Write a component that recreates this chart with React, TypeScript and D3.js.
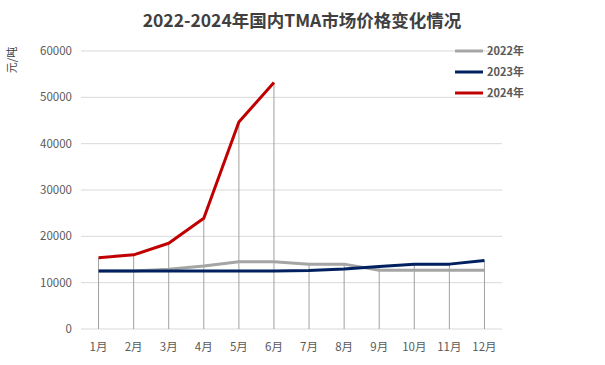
import React from 'react';
import * as d3 from 'd3';

const months = ['1月', '2月', '3月', '4月', '5月', '6月', '7月', '8月', '9月', '10月', '11月', '12月'];
const price2022 = [12500, 12500, 12900, 13600, 14500, 14500, 14000, 14000, 12700, 12700, 12700, 12700];
const price2023 = [12500, 12500, 12500, 12500, 12500, 12500, 12600, 12950, 13500, 14000, 14000, 14800];
const price2024 = [15400, 16000, 18500, 23900, 44700, 53200];
const yTicks = [0, 10000, 20000, 30000, 40000, 50000, 60000];

const series = [
  { name: '2022年', values: price2022, color: '#A5A5A5' },
  { name: '2023年', values: price2023, color: '#002060' },
  { name: '2024年', values: price2024, color: '#C00000' },
];

const font = '"Noto Sans CJK SC", "Microsoft YaHei", sans-serif';

const App = () => {
  const width = 605, height = 365;
  const left = 81, right = 502, top = 51, bottom = 329;

  const x = d3.scaleBand().domain(months).range([left, right]);
  const cx = (m: string) => (x(m) as number) + x.bandwidth() / 2;
  const y = d3.scaleLinear().domain([0, 60000]).range([bottom, top]);

  const line = d3.line<number>()
    .x((d, i) => cx(months[i]))
    .y((d) => y(d));

  // drop lines from the highest point of each month
  const maxes = months.map((m, i) => d3.max(series, (s) => s.values[i]) as number);

  return (
    <div style={{ position: 'absolute', left: 0, top: 0 }}>
      <svg width={width} height={height} style={{ display: 'block', background: '#fff' }}>
        <text x={302} y={27} textAnchor="middle" fontFamily={font} fontWeight="bold" fontSize={17.5} fill="#404040">
          2022-2024年国内TMA市场价格变化情况
        </text>
        <text transform="translate(16,60) rotate(-90)" textAnchor="middle" fontFamily={font} fontSize={11} fill="#404040">
          元/吨
        </text>
        {yTicks.map((t) => (
          <g key={t}>
            <line x1={left} x2={right} y1={y(t)} y2={y(t)} stroke="#D9D9D9" strokeWidth={1} />
            <text x={72} y={y(t) + 4} textAnchor="end" fontFamily={font} fontSize={11.5} fill="#595959">{t}</text>
          </g>
        ))}
        {months.map((m, i) => (
          <g key={m}>
            <line x1={cx(m)} x2={cx(m)} y1={y(maxes[i])} y2={bottom} stroke="#A0A0A0" strokeWidth={1} />
            <text x={cx(m)} y={351} textAnchor="middle" fontFamily={font} fontSize={11.5} fill="#595959">{m}</text>
          </g>
        ))}
        {series.map((s) => (
          <path key={s.name} d={line(s.values) as string} fill="none" stroke={s.color} strokeWidth={3} strokeLinejoin="round" />
        ))}
        {series.map((s, i) => (
          <g key={s.name} transform={`translate(0,${51 + i * 21})`}>
            <line x1={455} x2={483} y1={0} y2={0} stroke={s.color} strokeWidth={3} />
            <text x={487} y={4} fontFamily={font} fontWeight="bold" fontSize={11} fill="#595959">{s.name}</text>
          </g>
        ))}
      </svg>
    </div>
  );
};

export default App;
